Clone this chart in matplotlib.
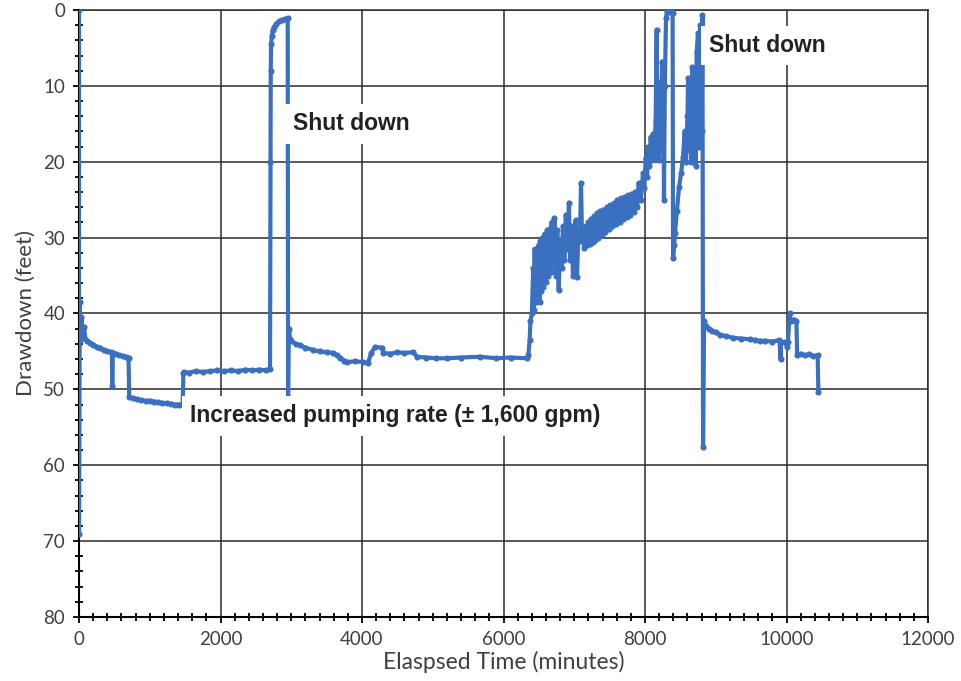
import numpy as np
import matplotlib.pyplot as plt
from matplotlib.ticker import MultipleLocator

# pumping test record: elapsed time (minutes) vs drawdown (feet)
t_start = [0, 0, 10, 20, 35, 50, 70, 90, 120, 160, 200, 250, 300, 350, 400, 450,
           465, 470, 478, 520, 570, 620, 670, 700]
dd_start = [0, 69, 38.5, 43.5, 40.5, 42.8, 41.8, 43.3, 43.6, 43.9, 44.1, 44.4, 44.6,
            44.8, 45.0, 45.1, 45.2, 49.6, 45.2, 45.3, 45.5, 45.6, 45.7, 45.8]

t_step1 = [710, 760, 820, 880, 940, 1000, 1060, 1120, 1180, 1240, 1300, 1360, 1420, 1465]
dd_step1 = [51.0, 51.2, 51.3, 51.4, 51.5, 51.5, 51.6, 51.7, 51.8, 51.8, 51.9, 52.0, 52.0, 52.1]

t_step2 = [1475, 1490, 1550, 1650, 1750, 1850, 1950, 2050, 2150, 2250, 2350, 2450,
           2550, 2650, 2700]
dd_step2 = [47.9, 47.7, 47.8, 47.6, 47.7, 47.6, 47.5, 47.6, 47.5, 47.6, 47.4, 47.5,
            47.4, 47.5, 47.3]

t_shut1 = [2706, 2710, 2715, 2725, 2740, 2760, 2790, 2830, 2870, 2910, 2950, 2955,
           2965, 2985]
dd_shut1 = [20.0, 8.0, 4.5, 3.4, 2.7, 2.2, 1.8, 1.5, 1.3, 1.2, 1.1, 51.0, 42.0, 43.4]

t_restart = [3000, 3060, 3124, 3200, 3307, 3400, 3500, 3590, 3650, 3689, 3750, 3788,
             3900, 4014, 4085, 4130, 4184, 4283, 4300, 4400, 4500, 4600, 4721, 4777,
             4900, 5050, 5201, 5400, 5668, 5900, 6100, 6332]
dd_restart = [43.6, 44.0, 44.2, 44.5, 44.8, 45.0, 45.1, 45.2, 45.5, 45.9, 46.2, 46.4,
              46.3, 46.4, 46.5, 45.2, 44.4, 44.5, 45.2, 45.3, 45.1, 45.2, 45.1, 45.7,
              45.8, 45.9, 45.9, 45.8, 45.7, 45.9, 45.8, 45.9]

t_unstable = [6350, 6370, 6380, 6400, 6420, 6430, 6440, 6455, 6470, 6480, 6495, 6510,
              6520, 6535, 6550, 6565, 6580, 6600, 6615, 6630, 6650, 6665, 6680, 6700,
              6720, 6740, 6760, 6780, 6800, 6820, 6840, 6860, 6880, 6900, 6925, 6940,
              6960, 6982, 7000, 7020, 7039, 7060, 7080, 7095, 7110, 7125, 7138, 7160,
              7180, 7200, 7220, 7240, 7260, 7280, 7300, 7320, 7340, 7364, 7390, 7410,
              7440, 7460, 7490, 7510, 7540, 7560, 7590, 7610, 7640, 7660, 7690, 7710,
              7740, 7760, 7790, 7810, 7840, 7860, 7890, 7910, 7940, 7972, 7990, 8010,
              8030, 8042, 8060, 8080, 8100, 8113, 8130, 8150, 8165, 8172, 8185, 8200,
              8215, 8228, 8240, 8250, 8258, 8268, 8280, 8297, 8310, 8340, 8370, 8390,
              8396, 8410, 8424, 8450, 8481, 8510, 8537, 8560, 8580, 8600, 8608, 8620,
              8640, 8655, 8670, 8678, 8700, 8715, 8730, 8749, 8760, 8780, 8800, 8812,
              8820]
dd_unstable = [45.5, 43.5, 41.0, 40.0, 34.0, 39.5, 31.5, 38.5, 33.0, 37.8, 31.0, 38.5,
               30.5, 37.0, 30.0, 36.5, 29.5, 35.8, 29.0, 35.0, 28.8, 34.5, 28.0, 33.8,
               27.4, 35.0, 29.0, 36.9, 30.5, 34.0, 28.5, 33.0, 27.0, 31.5, 25.4, 33.0,
               28.5, 35.0, 29.5, 27.7, 35.2, 29.0, 30.5, 22.8, 30.0, 29.0, 31.4, 28.5,
               31.0, 28.0, 30.8, 27.5, 30.6, 27.2, 30.3, 26.8, 30.0, 26.5, 29.6, 26.3,
               29.2, 26.0, 28.8, 25.7, 28.5, 25.5, 28.2, 25.0, 28.0, 24.8, 27.6, 24.6,
               27.3, 24.4, 27.0, 24.2, 26.6, 24.0, 26.0, 22.8, 25.0, 21.5, 23.5, 19.5,
               22.0, 18.0, 20.5, 16.8, 19.8, 16.3, 19.5, 14.5, 2.6, 19.0, 12.0, 19.8,
               9.5, 18.5, 6.8, 14.0, 7.0, 25.0, 10.0, 1.0, 0.3, 0.2, 0.2, 0.4,
               32.7, 31.0, 29.4, 26.5, 23.3, 21.5, 19.4, 16.0, 20.0, 14.0, 9.0, 18.5,
               12.5, 20.0, 7.5, 19.8, 10.0, 20.5, 5.5, 3.0, 18.0, 2.0, 16.0, 0.7,
               57.6]

t_end = [8835, 8860, 8900, 8950, 9000, 9060, 9150, 9250, 9350, 9484, 9550, 9625, 9700,
         9800, 9900, 9915, 9925, 9980, 10007, 10020, 10045, 10060, 10100, 10140, 10150,
         10200, 10260, 10320, 10380, 10440, 10450]
dd_end = [41.0, 41.6, 42.0, 42.3, 42.5, 42.8, 43.0, 43.2, 43.3, 43.4, 43.5, 43.6, 43.6,
          43.7, 43.5, 46.0, 43.7, 43.8, 44.4, 43.8, 40.0, 41.0, 40.8, 41.0, 45.5,
          45.3, 45.5, 45.4, 45.6, 45.5, 50.3]

time_min = np.concatenate([t_start, t_step1, t_step2, t_shut1, t_restart, t_unstable, t_end])
drawdown_ft = np.concatenate([dd_start, dd_step1, dd_step2, dd_shut1, dd_restart,
                              dd_unstable, dd_end])

notes = [
    (3025, 15.0, 'Shut down'),
    (8904, 4.7, 'Shut down'),
    (1569, 53.5, 'Increased pumping rate (\u00b1 1,600 gpm)'),
]

plt.rcParams['font.family'] = ['Lato', 'DejaVu Sans']

fig = plt.figure(figsize=(9.61, 6.81), dpi=100)
ax = fig.add_axes([0.0822, 0.094, 0.8835, 0.8913])

ax.plot(time_min, drawdown_ft, color='#3b6fc0', lw=3.0, marker='o', ms=3.4,
        solid_joinstyle='round', solid_capstyle='round', zorder=3)

ax.set_xlim(0, 12000)
ax.set_ylim(80, 0)
ax.xaxis.set_major_locator(MultipleLocator(2000))
ax.xaxis.set_minor_locator(MultipleLocator(200))
ax.yaxis.set_major_locator(MultipleLocator(10))
ax.yaxis.set_minor_locator(MultipleLocator(2))

ax.grid(True, which='major', color='#2b2b2b', lw=1.1, zorder=1)
for s in ax.spines.values():
    s.set_color('#2b2b2b')
    s.set_linewidth(1.1)
ax.spines['left'].set_color('black')
ax.spines['bottom'].set_color('black')
ax.spines['left'].set_linewidth(1.5)
ax.spines['bottom'].set_linewidth(1.5)

ax.tick_params(which='major', direction='out', length=4, width=1.3, color='black',
               labelsize=13.5, labelcolor='#404040', pad=6)
ax.tick_params(which='minor', direction='inout', length=6, width=1.3, color='black')

ax.set_xlabel('Elaspsed Time (minutes)', fontsize=16.5, color='#404040', labelpad=2)
ax.set_ylabel('Drawdown (feet)', fontsize=16, color='#404040', labelpad=5)

for x, y, s in notes:
    ax.text(x, y, s, ha='left', va='center', fontsize=16.5, fontweight='bold',
            family='Liberation Sans', color='#222222', zorder=4,
            bbox=dict(facecolor='white', edgecolor='none', pad=6))

fig.savefig('out.png', dpi=100)
